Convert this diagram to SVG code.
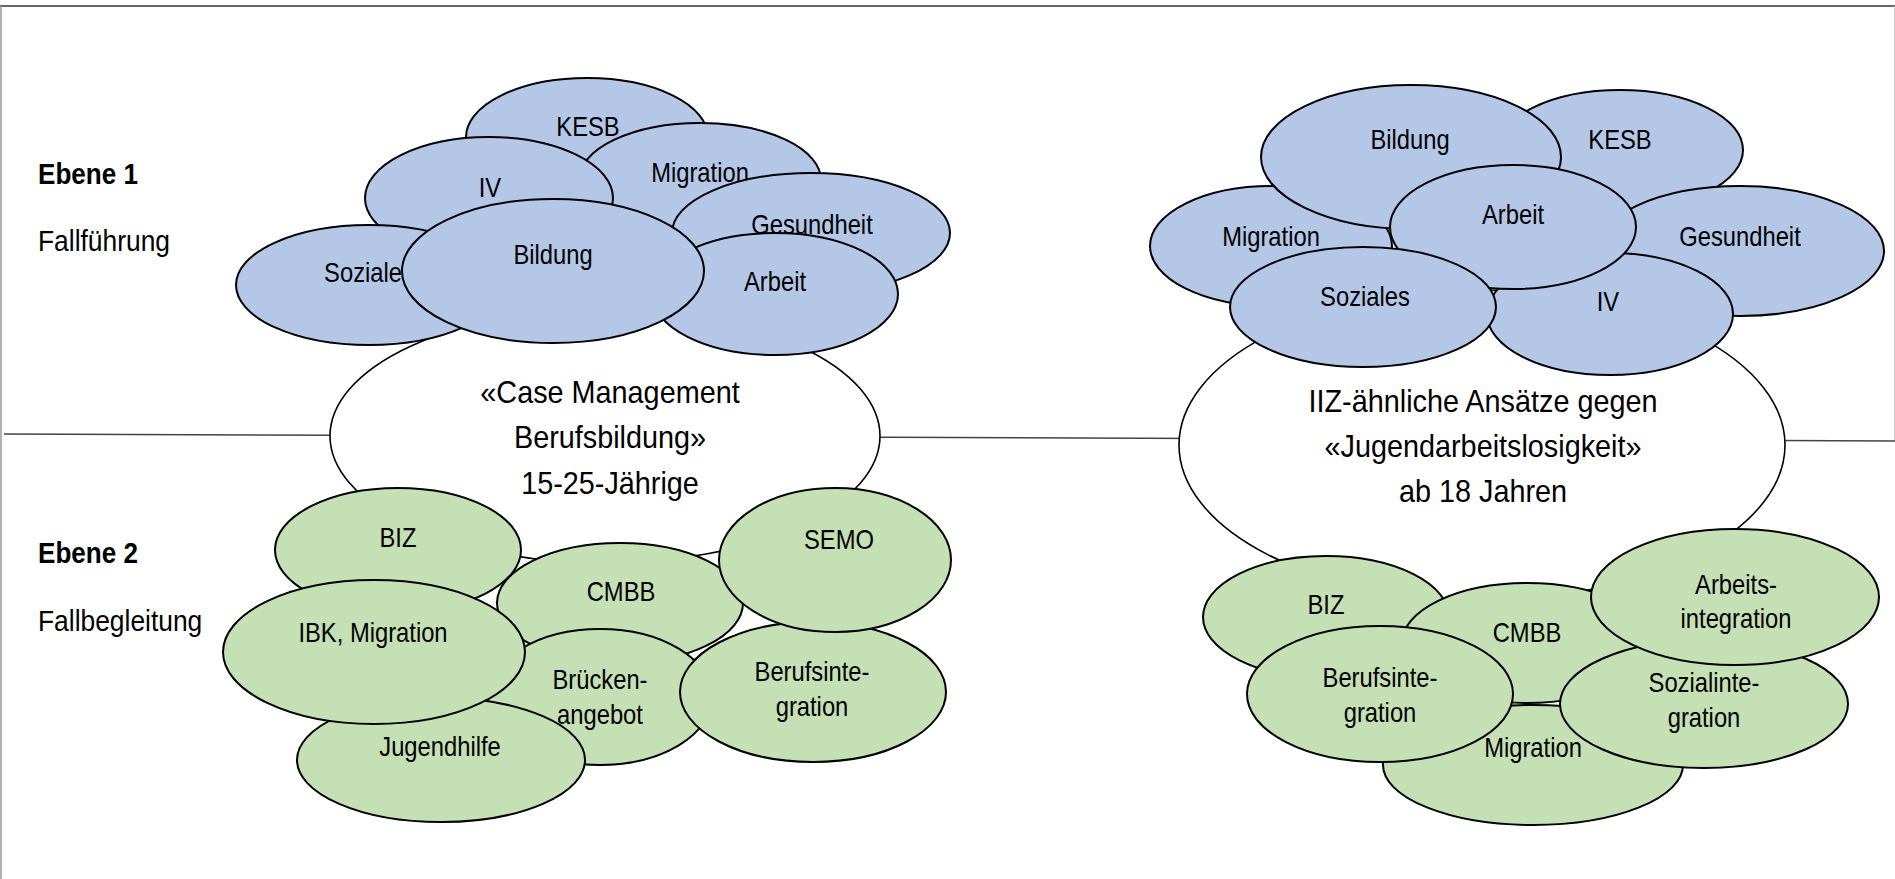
<svg xmlns="http://www.w3.org/2000/svg" width="1895" height="879" viewBox="0 0 1895 879">
<style>
  text { font-family: "Liberation Sans", Arial, sans-serif; fill: #000; text-anchor: middle; }
  .lbl { font-size: 27px; }
  .main { font-size: 32px; }
  .side { font-size: 29px; text-anchor: start; }
  .bold { font-weight: bold; }
  ellipse { stroke: #000; stroke-width: 2; }
  .blue { fill: #B4C7E7; }
  .green { fill: #C5E0B4; }
  .white { fill: #FFFFFF; stroke-width: 1.6; }
  .frame { stroke: #333; stroke-width: 1.5; fill: none; }
  .frameLight { stroke: #999; stroke-width: 1.5; fill: none; }
  .frameFaint { stroke: #ccc; stroke-width: 1; fill: none; }
</style>
<rect x="0" y="0" width="1895" height="879" fill="#FFFFFF"/>
<g id="frame">
  <line class="frame" x1="0" y1="6" x2="1895" y2="6"/>
  <line class="frameLight" x1="1" y1="6" x2="1" y2="879"/>
  <line class="frameFaint" x1="1894.5" y1="6" x2="1894.5" y2="441"/>
</g>
<g id="connectors">
  <line x1="4" y1="434" x2="1895" y2="441" stroke="#444" stroke-width="1.5"/>
</g>
<g id="side-labels">
  <text class="side bold" transform="matrix(0.9 0 0 1 38 184)">Ebene 1</text>
  <text class="side" transform="matrix(0.91 0 0 1 38 251)">Fallführung</text>
  <text class="side bold" transform="matrix(0.9 0 0 1 38 563)">Ebene 2</text>
  <text class="side" transform="matrix(0.91 0 0 1 38 631)">Fallbegleitung</text>
</g>
<!-- Left cluster -->
<g id="cm-berufsbildung">
  <ellipse class="white" cx="605" cy="436" rx="275" ry="127"/>
  <text class="main" transform="matrix(0.9 0 0 1 610 403)">«Case Management</text>
  <text class="main" transform="matrix(0.9 0 0 1 610 448)">Berufsbildung»</text>
  <text class="main" transform="matrix(0.9 0 0 1 610 494)">15-25-Jährige</text>
</g>
<g id="l-kesb"><ellipse class="blue" cx="587" cy="137" rx="121" ry="59"/><text class="lbl" transform="matrix(0.88 0 0 1 588 136)">KESB</text></g>
<g id="l-migration"><ellipse class="blue" cx="700" cy="180" rx="121" ry="57"/><text class="lbl" transform="matrix(0.88 0 0 1 700 182)">Migration</text></g>
<g id="l-iv"><ellipse class="blue" cx="489" cy="198" rx="124" ry="61"/><text class="lbl" transform="matrix(0.88 0 0 1 490 197)">IV</text></g>
<g id="l-gesundheit"><ellipse class="blue" cx="811" cy="233" rx="139" ry="60"/><text class="lbl" transform="matrix(0.88 0 0 1 812 234)">Gesundheit</text></g>
<g id="l-soziales"><ellipse class="blue" cx="369" cy="285" rx="133" ry="60"/><text class="lbl" transform="matrix(0.88 0 0 1 369 282)">Soziales</text></g>
<g id="l-arbeit"><ellipse class="blue" cx="775" cy="294" rx="123" ry="61"/><text class="lbl" transform="matrix(0.88 0 0 1 775 291)">Arbeit</text></g>
<g id="l-bildung"><ellipse class="blue" cx="553" cy="271" rx="151" ry="72"/><text class="lbl" transform="matrix(0.88 0 0 1 553 264)">Bildung</text></g>

<g id="l-biz"><ellipse class="green" cx="398" cy="550" rx="123" ry="62"/><text class="lbl" transform="matrix(0.88 0 0 1 398 547)">BIZ</text></g>
<g id="l-cmbb"><ellipse class="green" cx="620" cy="603" rx="123" ry="60"/><text class="lbl" transform="matrix(0.88 0 0 1 621 601)">CMBB</text></g>
<g id="l-brueckenangebot"><ellipse class="green" cx="600" cy="697" rx="112" ry="68"/><text class="lbl" transform="matrix(0.88 0 0 1 600 689)">Brücken-</text><text class="lbl" transform="matrix(0.88 0 0 1 600 724)">angebot</text></g>
<g id="l-berufsintegration"><ellipse class="green" cx="813" cy="692" rx="133" ry="70"/><text class="lbl" transform="matrix(0.88 0 0 1 812 681)">Berufsinte-</text><text class="lbl" transform="matrix(0.88 0 0 1 812 716)">gration</text></g>
<g id="l-semo"><ellipse class="green" cx="835" cy="560" rx="116" ry="72"/><text class="lbl" transform="matrix(0.88 0 0 1 839 549)">SEMO</text></g>
<g id="l-jugendhilfe"><ellipse class="green" cx="441" cy="760" rx="144" ry="62"/><text class="lbl" transform="matrix(0.88 0 0 1 440 756)">Jugendhilfe</text></g>
<g id="l-ibk-migration"><ellipse class="green" cx="374" cy="652" rx="151" ry="72"/><text class="lbl" transform="matrix(0.88 0 0 1 373 642)">IBK, Migration</text></g>

<!-- Right cluster -->
<g id="iiz">
  <ellipse class="white" cx="1482" cy="445" rx="303" ry="155"/>
  <text class="main" transform="matrix(0.9 0 0 1 1483 412)">IIZ-ähnliche Ansätze gegen</text>
  <text class="main" transform="matrix(0.9 0 0 1 1483 457)">«Jugendarbeitslosigkeit»</text>
  <text class="main" transform="matrix(0.9 0 0 1 1483 502)">ab 18 Jahren</text>
</g>
<g id="r-migration"><ellipse class="blue" cx="1271" cy="246" rx="121" ry="60"/><text class="lbl" transform="matrix(0.88 0 0 1 1271 246)">Migration</text></g>
<g id="r-kesb"><ellipse class="blue" cx="1620" cy="150" rx="123" ry="60"/><text class="lbl" transform="matrix(0.88 0 0 1 1620 149)">KESB</text></g>
<g id="r-bildung"><ellipse class="blue" cx="1411" cy="157" rx="150" ry="72"/><text class="lbl" transform="matrix(0.88 0 0 1 1410 149)">Bildung</text></g>
<g id="r-gesundheit"><ellipse class="blue" cx="1740" cy="251" rx="144" ry="65"/><text class="lbl" transform="matrix(0.88 0 0 1 1740 246)">Gesundheit</text></g>
<g id="r-iv"><ellipse class="blue" cx="1610" cy="314" rx="123" ry="61"/><text class="lbl" transform="matrix(0.88 0 0 1 1608 311)">IV</text></g>
<g id="r-arbeit"><ellipse class="blue" cx="1513" cy="227" rx="123" ry="62"/><text class="lbl" transform="matrix(0.88 0 0 1 1513 224)">Arbeit</text></g>
<g id="r-soziales"><ellipse class="blue" cx="1363" cy="307" rx="133" ry="60"/><text class="lbl" transform="matrix(0.88 0 0 1 1365 306)">Soziales</text></g>

<g id="r-biz"><ellipse class="green" cx="1326" cy="617" rx="123" ry="61"/><text class="lbl" transform="matrix(0.88 0 0 1 1326 614)">BIZ</text></g>
<g id="r-cmbb"><ellipse class="green" cx="1527" cy="643" rx="125" ry="60"/><text class="lbl" transform="matrix(0.88 0 0 1 1527 642)">CMBB</text></g>
<g id="r-migration2"><ellipse class="green" cx="1533" cy="765" rx="150" ry="60"/><text class="lbl" transform="matrix(0.88 0 0 1 1533 757)">Migration</text></g>
<g id="r-berufsintegration"><ellipse class="green" cx="1380" cy="694" rx="133" ry="68"/><text class="lbl" transform="matrix(0.88 0 0 1 1380 687)">Berufsinte-</text><text class="lbl" transform="matrix(0.88 0 0 1 1380 722)">gration</text></g>
<g id="r-sozialintegration"><ellipse class="green" cx="1704" cy="704" rx="144" ry="64"/><text class="lbl" transform="matrix(0.88 0 0 1 1704 692)">Sozialinte-</text><text class="lbl" transform="matrix(0.88 0 0 1 1704 727)">gration</text></g>
<g id="r-arbeitsintegration"><ellipse class="green" cx="1735" cy="597" rx="144" ry="68"/><text class="lbl" transform="matrix(0.88 0 0 1 1736 594)">Arbeits-</text><text class="lbl" transform="matrix(0.88 0 0 1 1736 628)">integration</text></g>
</svg>
